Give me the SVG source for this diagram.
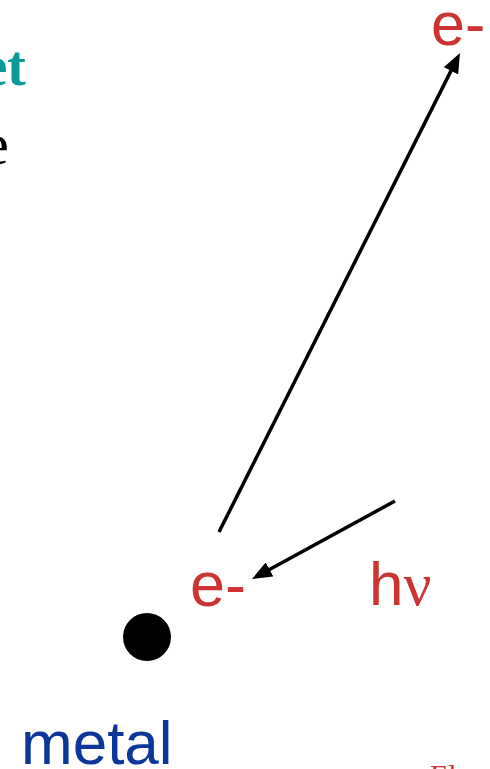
<svg xmlns="http://www.w3.org/2000/svg" width="490" height="769" viewBox="0 0 490 769">
<style>
.red{fill:#cc3333;font-family:"Liberation Sans",Arial,sans-serif}
.serif{font-family:"Liberation Serif","Times New Roman",serif}
.arrow{stroke:#000;stroke-width:3.5;fill:none}
</style>
<defs>
<marker id="ah" markerUnits="userSpaceOnUse" markerWidth="20" markerHeight="16" refX="10" refY="8" orient="auto" viewBox="0 0 20 16">
<path d="M0,0 L20,8 L0,16 z" fill="#000"/>
</marker>
</defs>
<rect width="490" height="769" fill="#fff"/>
<g id="title"><text class="serif" x="26" y="85" text-anchor="end" font-size="56" font-weight="bold" fill="#0a9a9a">et</text></g>
<g id="body"><text class="serif" x="9" y="164" text-anchor="end" font-size="60" fill="#000">e</text></g>
<g id="connectors">
<line class="arrow" x1="219" y1="532" x2="455.5" y2="61.9" marker-end="url(#ah)"/>
<line class="arrow" x1="395" y1="501" x2="260.8" y2="574.2" marker-end="url(#ah)"/>
</g>
<g id="electron-top"><text class="red" x="431" y="45" font-size="61">e-</text></g>
<g id="electron-bottom"><text class="red" x="190" y="606" font-size="63">e-</text></g>
<g id="photon"><text class="red" x="369" y="605" font-size="62">h<tspan class="serif">ν</tspan></text></g>
<g id="atom"><circle cx="147" cy="637" r="24" fill="#000"/></g>
<g id="metal"><text x="21" y="764" font-family="'Liberation Sans',Arial,sans-serif" font-size="62" fill="#0a3799">metal</text></g>
<g id="footer"><text class="serif" x="430" y="785" font-size="30" fill="#cc3333">El</text></g>
</svg>
